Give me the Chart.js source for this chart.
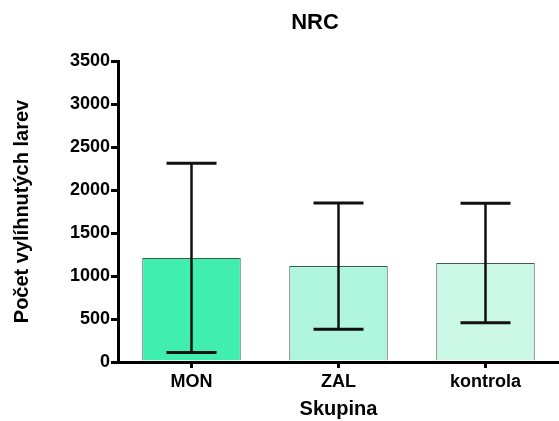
<!DOCTYPE html>
<html>
<head>
<meta charset="utf-8">
<script src="https://cdn.jsdelivr.net/npm/chart.js@4"></script>
<style>
  html, body { margin: 0; padding: 0; background: #fff; }
  #wrap { width: 559px; height: 421px; position: relative; }
</style>
</head>
<body>
<div id="wrap"><canvas class="bar-chart"></canvas></div>
<script>
const skupiny = ['MON', 'ZAL', 'kontrola'];
const prumer = [1210, 1115, 1150];
const odchylka = [1100, 735, 695];
const barvy = ['#40eeb0', '#b0f5de', '#ccf8e7'];
const yTicks = [0, 500, 1000, 1500, 2000, 2500, 3000, 3500];

const FONT = 'Liberation Sans, Arial, sans-serif';

// error bars drawn through the scales
const errorBars = {
  id: 'errorBars',
  afterDatasetsDraw(chart) {
    const ctx = chart.ctx;
    const y = chart.scales.y;
    const meta = chart.getDatasetMeta(0);
    ctx.save();
    ctx.strokeStyle = '#111';
    meta.data.forEach((bar, i) => {
      const top = y.getPixelForValue(prumer[i] + odchylka[i]);
      const bot = y.getPixelForValue(prumer[i] - odchylka[i]);
      const half = 25;
      ctx.lineWidth = 2.5;
      ctx.beginPath();
      ctx.moveTo(bar.x, top);
      ctx.lineTo(bar.x, bot);
      ctx.stroke();
      ctx.lineWidth = 3;
      ctx.beginPath();
      ctx.moveTo(bar.x - half, top);
      ctx.lineTo(bar.x + half, top);
      ctx.moveTo(bar.x - half, bot);
      ctx.lineTo(bar.x + half, bot);
      ctx.stroke();
    });
    ctx.restore();
  }
};

// title sits a bit left of the plot centre like in the original
const nadpis = {
  id: 'nadpis',
  afterDraw(chart) {
    const ctx = chart.ctx;
    ctx.save();
    ctx.font = 'bold 22px ' + FONT;
    ctx.fillStyle = '#000';
    ctx.textAlign = 'center';
    ctx.textBaseline = 'middle';
    ctx.fillText('NRC', 315, 23);
    ctx.restore();
  }
};

const chart = document.querySelector('.bar-chart');
new Chart(chart, {
  type: 'bar',
  data: {
    labels: skupiny,
    datasets: [{
      data: prumer,
      backgroundColor: barvy,
      borderColor: '#3d5c4c',
      borderWidth: 1,
      barPercentage: 0.67,
      categoryPercentage: 1
    }]
  },
  options: {
    responsive: true,
    maintainAspectRatio: false,
    animation: false,
    layout: { padding: { top: 61, right: -4, left: 0, bottom: 0 } },
    plugins: {
      legend: { display: false },
      tooltip: { enabled: false }
    },
    scales: {
      x: {
        afterFit: s => { s.height = 59; },
        grid: {
          offset: false,
          drawOnChartArea: false,
          color: '#000',
          lineWidth: 3,
          tickLength: 6
        },
        border: { color: '#000', width: 3 },
        ticks: {
          color: '#000',
          padding: 3,
          font: { family: FONT, size: 18, weight: 'bold' }
        },
        title: {
          display: true,
          text: 'Skupina',
          color: '#000',
          padding: { top: 2, bottom: 0 },
          font: { family: FONT, size: 20, weight: 'bold' }
        }
      },
      y: {
        min: 0,
        max: 3500,
        afterFit: s => { s.width = 118; },
        afterBuildTicks: s => { s.ticks = yTicks.map(v => ({ value: v })); },
        grid: {
          drawOnChartArea: false,
          color: '#000',
          lineWidth: 3,
          tickLength: 7
        },
        border: { color: '#000', width: 3 },
        ticks: {
          color: '#000',
          padding: 1,
          callback: v => String(v),
          font: { family: FONT, size: 18, weight: 'bold' }
        },
        title: {
          display: true,
          text: 'Počet vylíhnutých larev',
          color: '#000',
          padding: { top: 10, bottom: 0 },
          font: { family: FONT, size: 20, weight: 'bold' }
        }
      }
    }
  },
  plugins: [errorBars, nadpis]
});
</script>
</body>
</html>
